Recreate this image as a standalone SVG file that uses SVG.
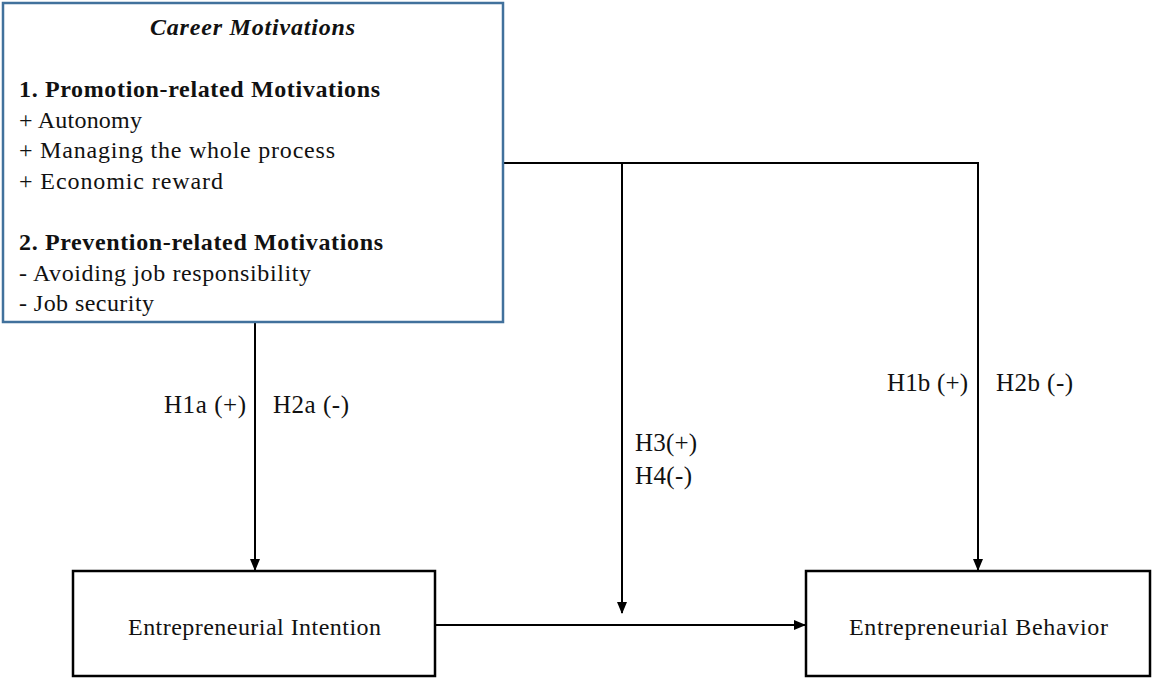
<svg xmlns="http://www.w3.org/2000/svg" width="1154" height="678" viewBox="0 0 1154 678">
<style>
text{font-family:"Liberation Serif","Times New Roman",serif;fill:#111;}
.t{font-size:24px;}
.b{font-weight:bold;}
.lab{font-size:25px;}
.box{fill:#fff;stroke:#000;stroke-width:2.5;}
.ln{fill:none;stroke:#000;stroke-width:2;}
</style>
<defs>
<marker id="ah" markerWidth="12" markerHeight="10" refX="11" refY="5" orient="auto" markerUnits="userSpaceOnUse">
<path d="M0,0 L12,5 L0,10 z" fill="#000"/>
</marker>
</defs>
<g id="connectors">
<path class="ln" d="M255,322 L255,570" marker-end="url(#ah)"/>
<path class="ln" d="M503,163 L978,163 L978,570" marker-end="url(#ah)"/>
<path class="ln" d="M622,163 L622,613" marker-end="url(#ah)"/>
<path class="ln" d="M436,625 L805,625" marker-end="url(#ah)"/>
<text class="lab" x="164" y="413" textLength="82">H1a (+)</text>
<text class="lab" x="273" y="413" textLength="76">H2a (-)</text>
<text class="lab" x="635" y="451" textLength="62">H3(+)</text>
<text class="lab" x="635" y="484" textLength="57">H4(-)</text>
<text class="lab" x="887" y="391" textLength="81">H1b (+)</text>
<text class="lab" x="996" y="391" textLength="77">H2b (-)</text>
</g>
<g id="career-motivations">
<rect x="3" y="3" width="500" height="319" fill="#fff" stroke="#41719C" stroke-width="2.5"/>
<text class="t b" x="150" y="35" font-style="italic" textLength="205">Career Motivations</text>
<text class="t b" x="19" y="97" textLength="361">1. Promotion-related Motivations</text>
<text class="t" x="19" y="128" textLength="123">+ Autonomy</text>
<text class="t" x="19" y="158" textLength="316">+ Managing the whole process</text>
<text class="t" x="19" y="189" textLength="204">+ Economic reward</text>
<text class="t b" x="19" y="250" textLength="364">2. Prevention-related Motivations</text>
<text class="t" x="19" y="281" textLength="292">- Avoiding job responsibility</text>
<text class="t" x="19" y="311" textLength="135">- Job security</text>
</g>
<g id="entrepreneurial-intention">
<rect class="box" x="73" y="571" width="362" height="105"/>
<text class="t" x="128" y="635" textLength="253">Entrepreneurial Intention</text>
</g>
<g id="entrepreneurial-behavior">
<rect class="box" x="806" y="571" width="344" height="105"/>
<text class="t" x="849" y="635" textLength="259">Entrepreneurial Behavior</text>
</g>
</svg>
